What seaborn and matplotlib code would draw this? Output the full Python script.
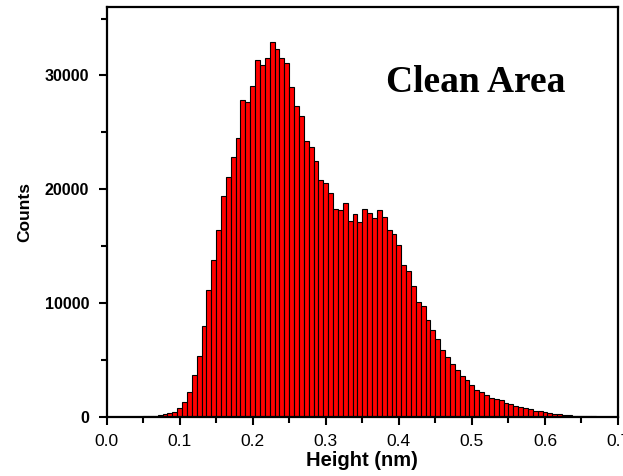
import numpy as np
import pandas as pd
import matplotlib
matplotlib.use("Agg")
import matplotlib.pyplot as plt
from matplotlib.ticker import MultipleLocator
import seaborn as sns

# Histogram of surface heights, bins of width 1/150 nm centred on k/150
bin_index = list(range(0, 106))
counts = [
    0, 0, 0, 0, 0, 0, 20, 30, 50, 70,
    100, 150, 220, 330, 480, 750, 1350, 2170, 3670, 5360,
    8030, 11170, 13810, 16390, 19440, 21080, 22840, 24510, 27850, 27680,
    29050, 31340, 30960, 31490, 32920, 32280, 31510, 31070, 29000, 27330,
    26450, 24210, 23720, 22490, 20820, 20520, 19640, 18270, 18140, 18760,
    17240, 17830, 17150, 18230, 17920, 17440, 18140, 17590, 16450, 16090,
    15100, 13340, 12810, 11500, 10090, 9760, 8500, 7620, 6830, 5870,
    5280, 4660, 4130, 3610, 3250, 2790, 2370, 2170, 1910, 1700,
    1560, 1470, 1230, 1140, 970, 850, 770, 680, 530, 500,
    410, 330, 240, 230, 150, 140, 110, 90, 70, 60,
    50, 40, 30, 25, 20, 15,
]
x_ticks = [0.0, 0.1, 0.2, 0.3, 0.4, 0.5, 0.6, 0.7]
x_tick_labels = ["0.0", "0.1", "0.2", "0.3", "0.4", "0.5", "0.6", "0.7"]
y_ticks = [0, 10000, 20000, 30000]
y_tick_labels = ["0", "10000", "20000", "30000"]

bin_width = 1.0 / 150
centers = np.array(bin_index) / 150.0
df = pd.DataFrame({"height": centers, "count": counts})

sns.set_style("ticks")
plt.rcParams["font.family"] = ["Liberation Sans", "DejaVu Sans"]
plt.rcParams["text.color"] = "black"
plt.rcParams["axes.labelcolor"] = "black"
plt.rcParams["xtick.color"] = "black"
plt.rcParams["ytick.color"] = "black"

fig = plt.figure(figsize=(6.23, 4.76), dpi=100)
ax = fig.add_axes([0.171, 0.124, 0.821, 0.861])

sns.histplot(data=df, x="height", weights="count",
             binwidth=bin_width,
             binrange=(centers[0] - bin_width / 2, centers[-1] + bin_width / 2),
             color="#ff0000", edgecolor="black", linewidth=0.8,
             alpha=1.0, ax=ax)

ax.set_xlim(0, 0.7)
ax.set_ylim(0, 36000)

ax.set_xticks(x_ticks)
ax.set_xticklabels(x_tick_labels, fontsize=12.5)
ax.set_yticks(y_ticks)
ax.set_yticklabels(y_tick_labels, fontsize=11.5, fontweight="bold")
ax.xaxis.set_minor_locator(MultipleLocator(0.05))
ax.yaxis.set_minor_locator(MultipleLocator(5000))
ax.tick_params(which="major", direction="out", length=6, width=1.5,
               top=False, right=False, color="black")
ax.tick_params(axis="x", which="major", pad=6)
ax.tick_params(axis="y", which="major", pad=6.5)
ax.tick_params(which="minor", direction="out", length=4, width=1.5,
               top=False, right=False, color="black")

for side in ["left", "bottom", "top", "right"]:
    ax.spines[side].set_visible(True)
    ax.spines[side].set_linewidth(1.6)
    ax.spines[side].set_color("black")

ax.set_xlabel("Height (nm)", fontsize=14.5, fontweight="bold", labelpad=2)
ax.set_ylabel("Counts", fontsize=12.5, fontweight="bold", labelpad=9)

ax.text(0.505, 29400, "Clean Area", ha="center", va="center",
        fontsize=27, fontweight="bold", family=["Liberation Serif", "DejaVu Serif"])

fig.savefig("out.png", dpi=100)
